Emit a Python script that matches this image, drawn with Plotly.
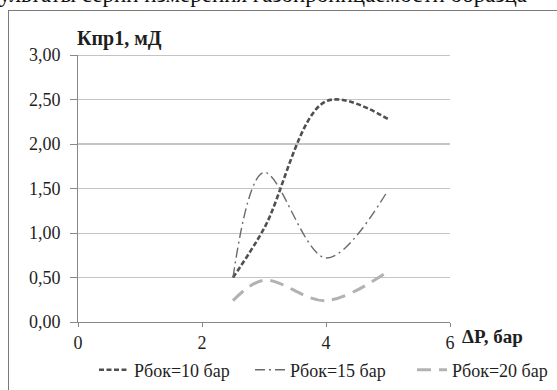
import plotly.graph_objects as go

x_vals = [2.5, 3, 4, 5]
s10 = [0.50, 1.05, 2.48, 2.28]
s15 = [0.50, 1.68, 0.72, 1.48]
s20 = [0.24, 0.47, 0.24, 0.57]
names = ["Рбок=10 бар", "Рбок=15 бар", "Рбок=20 бар"]
y_ticks = [0, 0.5, 1.0, 1.5, 2.0, 2.5, 3.0]
y_labels = ["0,00", "0,50", "1,00", "1,50", "2,00", "2,50", "3,00"]
x_ticks = [0, 2, 4, 6]
dark_grid = [1.5, 2.0, 3.0]

FONT = "Times New Roman, Liberation Serif, DejaVu Serif, serif"
TXT = "#1e1e1e"

fig = go.Figure()
fig.add_trace(go.Scatter(x=x_vals, y=s10, name=names[0], mode="lines", legend="legend",
                         line=dict(color="#505050", width=2.6, dash="5px,2.5px", shape="spline", smoothing=1.0)))
fig.add_trace(go.Scatter(x=x_vals, y=s15, name=names[1], mode="lines", legend="legend2",
                         line=dict(color="#6a6a6a", width=1.4, dash="10px,4px,2px,4px", shape="spline", smoothing=1.0)))
fig.add_trace(go.Scatter(x=x_vals, y=s20, name=names[2], mode="lines", legend="legend3",
                         line=dict(color="#b2b2b2", width=3, dash="14px,8px", shape="spline", smoothing=1.0)))

# plot area: x 78..450, y 55..322  (w=372, h=267)
def lx(px):
    return (px - 78) / 372.0

def ly(py):
    return 1 - (py - 55) / 267.0

shapes = []
for v in dark_grid:
    shapes.append(dict(type="line", xref="paper", x0=0, x1=1, yref="y", y0=v, y1=v,
                       line=dict(color="#8a8a8a", width=1.2), layer="below"))
# outer chart frame (left and top edges; the rest lies beyond the page)
shapes.append(dict(type="line", xref="paper", yref="paper", x0=lx(8.5), x1=lx(8.5), y0=ly(10.5), y1=ly(400),
                   line=dict(color="#7a7a7a", width=1)))
shapes.append(dict(type="line", xref="paper", yref="paper", x0=lx(8.5), x1=lx(600), y0=ly(10.5), y1=ly(10.5),
                   line=dict(color="#7a7a7a", width=1)))

leg_common = dict(orientation="h", y=ly(370), xanchor="left", yanchor="middle",
                  font=dict(family=FONT, size=18, color=TXT), itemwidth=30,
                  bgcolor="rgba(0,0,0,0)", borderwidth=0)

fig.update_layout(
    width=557, height=390,
    margin=dict(l=78, r=107, t=55, b=68, autoexpand=False),
    paper_bgcolor="white", plot_bgcolor="white",
    font=dict(family=FONT, size=16, color=TXT),
    showlegend=True,
    legend=dict(x=lx(94), **leg_common),
    legend2=dict(x=lx(250), **leg_common),
    legend3=dict(x=lx(412), **leg_common),
    xaxis=dict(range=[0, 6], tickvals=x_ticks, showgrid=False, showline=True, linecolor="#888",
               linewidth=1, ticks="outside", ticklen=4, tickcolor="#888", zeroline=False,
               tickfont=dict(family=FONT, size=18, color=TXT)),
    yaxis=dict(range=[0, 3], tickvals=y_ticks, ticktext=y_labels, showgrid=True, gridcolor="#c4c4c4",
               gridwidth=1, showline=True, linecolor="#888", linewidth=1, ticks="outside", ticklen=7,
               ticklabelstandoff=6,
               tickcolor="#888", zeroline=False, tickfont=dict(family=FONT, size=18, color=TXT)),
    shapes=shapes,
    annotations=[
        # frame box drawn as an empty bordered annotation as well
        dict(text=" ", xref="paper", yref="paper", x=lx(8), y=ly(10), xanchor="left", yanchor="top",
             width=620, height=420, showarrow=False, bordercolor="#7a7a7a", borderwidth=1, borderpad=0,
             font=dict(size=10)),
        dict(text="<b>Кпр1, мД</b>", xref="paper", yref="paper", x=lx(75), y=1.062, xanchor="left", yanchor="middle",
             showarrow=False, font=dict(family=FONT, size=20, color=TXT)),
        dict(text="<b>ΔP, бар</b>", xref="paper", yref="paper", x=lx(460), y=-0.055, xanchor="left", yanchor="middle",
             showarrow=False, font=dict(family=FONT, size=19, color=TXT)),
        dict(text="ультаты серии измерения газопроницаемости образца", xref="paper", yref="paper",
             x=lx(-3), y=1.226, xanchor="left", yanchor="middle", showarrow=False,
             font=dict(family=FONT, size=23, color="#111")),
    ],
)

fig.write_html("out.html", config={"displayModeBar": False},
               post_script="document.body.style.margin='0';document.body.style.padding='0';"
                           "document.body.style.overflow='hidden';")
